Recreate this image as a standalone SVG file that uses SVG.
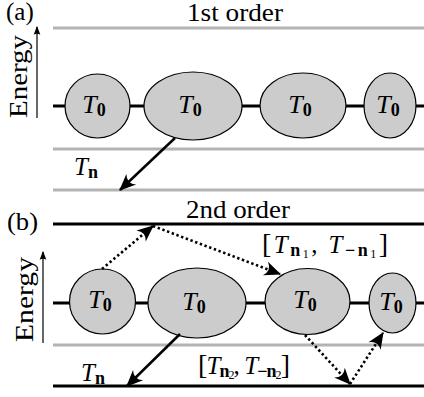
<svg xmlns="http://www.w3.org/2000/svg" width="424" height="397" viewBox="0 0 424 397">
<style>
text{font-family:"Liberation Serif","Times New Roman",serif;font-size:25px;fill:#000}
.it{font-style:italic}
.nl .it{font-size:26px}
.sub{font-weight:bold;font-size:18px}
.ss{font-size:12px;font-weight:normal}
.br{font-size:28px}
.gray{stroke:#b3b3b3;stroke-width:3;fill:none}
.blk{stroke:#000;stroke-width:3;fill:none}
.node ellipse{fill:#cccccc;stroke:#000;stroke-width:1.2}
.sol{stroke:#000;stroke-width:2.5;fill:none;marker-end:url(#ah)}
.dot{stroke:#000;stroke-width:2.6;fill:none;stroke-dasharray:2.4 2.6;marker-end:url(#ah)}
.ax{stroke:#000;stroke-width:1.2;fill:none;marker-end:url(#sm)}
</style>
<defs>
<marker id="ah" markerUnits="userSpaceOnUse" markerWidth="20" markerHeight="20" viewBox="-16 -8 18 16" refX="0" refY="0" orient="auto">
<path d="M1,0 L-14,-6.5 Q-8,0 -14,6.5 Z" fill="#000"/>
</marker>
<marker id="sm" markerUnits="userSpaceOnUse" markerWidth="10" markerHeight="10" viewBox="-8 -4 9 8" refX="0" refY="0" orient="auto">
<path d="M1,0 L-7,-3 Q-5,0 -7,3 Z" fill="#000"/>
</marker>
</defs>

<g id="panel-a-labels">
<text x="6" y="20" font-size="22">(a)</text>
<text x="235" y="21" text-anchor="middle" textLength="96" lengthAdjust="spacingAndGlyphs">1st order</text>
<text transform="translate(27,118) rotate(-90)" font-size="26" textLength="83" lengthAdjust="spacingAndGlyphs">Energy</text>
<line class="ax" x1="37" y1="118" x2="37" y2="27"/>
</g>

<g id="levels-a">
<line class="gray" x1="53" y1="28" x2="424" y2="28"/>
<line class="blk" x1="53" y1="106" x2="424" y2="106"/>
<line class="gray" x1="53" y1="149" x2="424" y2="149"/>
<line class="gray" x1="53" y1="190" x2="424" y2="190"/>
</g>

<g id="panel-b-labels">
<text x="7" y="230" font-size="24" textLength="31" lengthAdjust="spacingAndGlyphs">(b)</text>
<text x="238" y="218" text-anchor="middle" textLength="104" lengthAdjust="spacingAndGlyphs">2nd order</text>
<text transform="translate(33,342) rotate(-90)" font-size="26" textLength="85" lengthAdjust="spacingAndGlyphs">Energy</text>
<line class="ax" x1="43" y1="343" x2="43" y2="252"/>
</g>

<g id="levels-b">
<line class="blk" x1="53" y1="224" x2="424" y2="224"/>
<line class="blk" x1="53" y1="303" x2="424" y2="303"/>
<line class="gray" x1="53" y1="345" x2="424" y2="345"/>
<line class="blk" x1="53" y1="386" x2="424" y2="386"/>
</g>

<g id="a1" class="node nl"><ellipse cx="97.5" cy="106" rx="32.5" ry="32"/><text x="94" y="113" text-anchor="middle"><tspan class="it">T</tspan><tspan class="sub" dy="3">0</tspan></text></g>
<g id="a2" class="node nl"><ellipse cx="193" cy="106" rx="49" ry="34"/><text x="190" y="113" text-anchor="middle"><tspan class="it">T</tspan><tspan class="sub" dy="3">0</tspan></text></g>
<g id="a3" class="node nl"><ellipse cx="303" cy="105.5" rx="43" ry="32.5"/><text x="300" y="113" text-anchor="middle"><tspan class="it">T</tspan><tspan class="sub" dy="3">0</tspan></text></g>
<g id="a4" class="node nl"><ellipse cx="390" cy="105.5" rx="26" ry="32.5"/><text x="388" y="113" text-anchor="middle"><tspan class="it">T</tspan><tspan class="sub" dy="3">0</tspan></text></g>

<g id="b1" class="node nl"><ellipse cx="102.5" cy="301.5" rx="33" ry="32.5"/><text x="100" y="308" text-anchor="middle"><tspan class="it">T</tspan><tspan class="sub" dy="3">0</tspan></text></g>
<g id="b2" class="node nl"><ellipse cx="197" cy="303" rx="49" ry="35"/><text x="194" y="310" text-anchor="middle"><tspan class="it">T</tspan><tspan class="sub" dy="3">0</tspan></text></g>
<g id="b3" class="node nl"><ellipse cx="307.5" cy="301.5" rx="42.5" ry="33"/><text x="305" y="308" text-anchor="middle"><tspan class="it">T</tspan><tspan class="sub" dy="3">0</tspan></text></g>
<g id="b4" class="node nl"><ellipse cx="392.5" cy="303" rx="23.5" ry="30"/><text x="391" y="310" text-anchor="middle"><tspan class="it">T</tspan><tspan class="sub" dy="3">0</tspan></text></g>

<g id="connectors">
<line class="sol" x1="175" y1="138" x2="120" y2="190"/>
<line class="dot" x1="102" y1="269" x2="153" y2="226"/>
<line class="dot" x1="153" y1="226" x2="280" y2="274"/>
<line class="dot" x1="305" y1="335" x2="350" y2="384"/>
<line class="dot" x1="350" y1="384" x2="383" y2="333"/>
<line class="sol" x1="180" y1="334" x2="127" y2="386"/>
</g>

<g id="edge-labels">
<text x="74" y="175"><tspan class="it">T</tspan><tspan class="sub" dy="3">n</tspan></text>
<text x="81" y="381"><tspan class="it">T</tspan><tspan class="sub" dy="3">n</tspan></text>
<text x="262" y="253" textLength="126" lengthAdjust="spacing"><tspan class="br">[</tspan><tspan class="it">T</tspan><tspan class="sub" dy="3">n</tspan><tspan class="ss" dy="2">1</tspan><tspan dy="-5">, </tspan><tspan class="it">T</tspan><tspan class="sub" dy="3">−n</tspan><tspan class="ss" dy="2">1</tspan><tspan class="br" dy="-5">]</tspan></text>
<text x="198" y="374" textLength="92" lengthAdjust="spacing"><tspan class="br">[</tspan><tspan class="it">T</tspan><tspan class="sub" dy="3">n</tspan><tspan class="ss" dy="2">2</tspan><tspan dy="-5">, </tspan><tspan class="it">T</tspan><tspan class="sub" dy="3">−n</tspan><tspan class="ss" dy="2">2</tspan><tspan class="br" dy="-5">]</tspan></text>
</g>
</svg>
